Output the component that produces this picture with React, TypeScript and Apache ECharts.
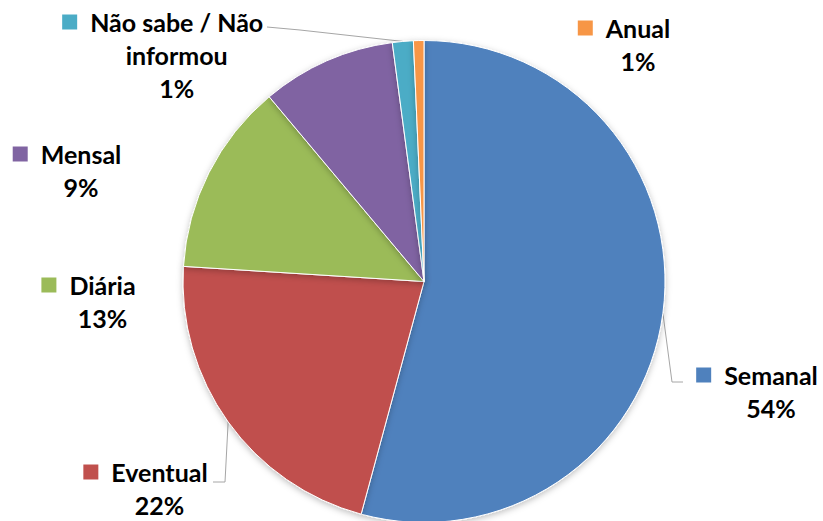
import React, { useEffect, useRef } from "react";
import * as echarts from "echarts";

const categories = ["Semanal", "Eventual", "Diária", "Mensal", "Não sabe / Não informou", "Anual"];
const values = [54.2, 21.8, 12.9, 9.0, 1.4, 0.7];
const colors = ["#4F81BD", "#C0504D", "#9BBB59", "#8064A2", "#4BACC6", "#F79646"];
// label block: name centre x, first-line centre y, leader line bend points
const labelPos: { cx: number; cy: number; line: number[][] | null }[] = [
  { cx: 771, cy: 375, line: [[672, 382], [683, 382]] },
  { cx: 159.5, cy: 472, line: [[225, 482], [213, 482]] },
  { cx: 102.5, cy: 285, line: null },
  { cx: 81, cy: 154, line: null },
  { cx: 176.7, cy: 22, line: [[300, 30], [267, 27]] },
  { cx: 638, cy: 28, line: null },
];

const FONT = "Lato";
const FS = 25;
const LH = 33;

export default function App() {
  const ref = useRef<HTMLDivElement>(null);
  useEffect(() => {
    if (!ref.current) return;
    const chart = echarts.init(ref.current, undefined, { renderer: "svg" });
    const total = values.reduce((a, b) => a + b, 0);
    const data = categories.map((name, i) => {
      const pct = Math.round((values[i] / total) * 100) + "%";
      const nameText =
        i === 4 ? "{sq|}{name|Não sabe / Não}\n{name2|informou}\n{pct|" + pct + "}" : "{sq|}{name|" + name + "}\n{pct|" + pct + "}";
      return {
        name,
        value: values[i],
        itemStyle: { color: colors[i] },
        label: {
          formatter: nameText,
          rich: {
            sq: { width: 15, height: 15, backgroundColor: colors[i] },
          },
        },
        labelLine: { show: labelPos[i].line !== null },
      };
    });
    chart.setOption({
      animation: false,
      backgroundColor: "#ffffff",
      series: [
        {
          type: "pie",
          center: [424, 281.5],
          radius: [0, 241],
          startAngle: 90,
          clockwise: true,
          avoidLabelOverlap: false,
          data,
          itemStyle: {
            borderColor: "#ffffff",
            borderWidth: 1,
            shadowBlur: 6,
            shadowColor: "rgba(0,0,0,0.25)",
            shadowOffsetY: 2,
          },
          label: {
            show: true,
            position: "outside",
            align: "center",
            fontFamily: FONT,
            fontWeight: "bold",
            fontSize: FS,
            lineHeight: LH,
            color: "#000",
            rich: {
              name: { fontFamily: FONT, fontWeight: "bold", fontSize: FS, lineHeight: LH, color: "#000", padding: [0, 0, 0, 13] },
              name2: { fontFamily: FONT, fontWeight: "bold", fontSize: FS, lineHeight: LH, color: "#000", padding: [0, 0, 0, 28] },
              pct: { fontFamily: FONT, fontWeight: "bold", fontSize: FS, lineHeight: LH, color: "#000", padding: [0, 0, 0, 28] },
            },
          },
          labelLine: {
            show: true,
            lineStyle: { color: "#A6A6A6", width: 1 },
            smooth: false,
          },
          labelLayout: (params: any) => {
            const p = labelPos[params.dataIndex];
            const res: any = {
              x: p.cx - 14,
              y: p.cy - LH / 2,
              align: "center",
              verticalAlign: "top",
            };
            if (p.line && params.labelLinePoints) {
              const start = params.labelLinePoints[0];
              res.labelLinePoints = [start, p.line[0], p.line[1]];
            }
            return res;
          },
        },
      ],
    });
    return () => chart.dispose();
  }, []);
  return (
    <div
      ref={ref}
      style={{ position: "fixed", left: 0, top: 0, width: 823, height: 521 }}
    />
  );
}
